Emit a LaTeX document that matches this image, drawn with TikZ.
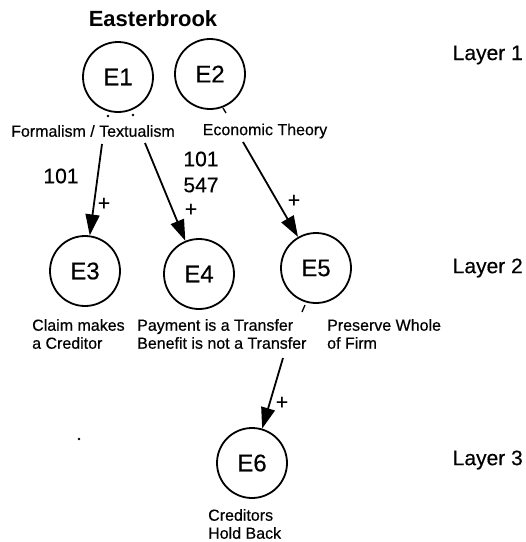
\documentclass[tikz,border=0pt]{standalone}
\usepackage{fontspec}
\setmainfont{Liberation Sans}[FakeBold=0.4]
\newfontfamily\titlefont{Liberation Sans Bold}
\usetikzlibrary{arrows.meta}
\begin{document}
\begin{tikzpicture}[x=1pt,y=-1pt,
  circ/.style={circle,draw,line width=1.8pt,minimum size=70pt,inner sep=0pt,font=\fontsize{24}{26}\selectfont},
  lbl/.style={font=\fontsize{16}{18}\selectfont,align=left,inner sep=0pt,anchor=west},
  clbl/.style={font=\fontsize{16}{18}\selectfont,inner sep=0pt},
  layer/.style={font=\fontsize{21}{24}\selectfont,inner sep=0pt,anchor=east},
  num/.style={font=\fontsize{21}{26}\selectfont,inner sep=0pt,align=left},
  plus/.style={font=\fontsize{21}{21}\selectfont,inner sep=0pt},
  conn/.style={line width=1.8pt,-{Triangle[length=21pt,width=14pt]}},
  tick/.style={line width=1.3pt},
]
\useasboundingbox (0,0) rectangle (526,542);
\node[font=\titlefont\fontsize{22}{24}\selectfont,inner sep=0pt] (title) at (153,19) {Easterbrook};

\node[circ] (E1) at (118,77) {E1};
\node[circ] (E2) at (210,74) {E2};
\node[circ] (E3) at (85,271) {E3};
\node[circ] (E4) at (199,274) {E4};
\node[circ] (E5) at (316,268) {E5};
\node[circ] (E6) at (252,463) {E6};

\node[layer] (L1) at (523,55) {Layer 1};
\node[layer] (L2) at (523,268) {Layer 2};
\node[layer] (L3) at (523,460) {Layer 3};

\node[clbl] (t1) at (93,131) {Formalism / Textualism};
\node[clbl] (t2) at (265,131) {Economic Theory};
\node[lbl] (t3) at (32,334) {Claim makes\\a Creditor};
\node[lbl] (t4) at (137,334) {Payment is a Transfer\\Benefit is not a Transfer};
\node[lbl] (t5) at (327,334) {Preserve Whole\\of Firm};
\node[lbl] (t6) at (208,524) {Creditors\\Hold Back};

\node[num] (n1) at (61,176) {101};
\node[num] (n2) at (201,172) {101\\547};

\node[plus] (p1) at (104,204) {+};
\node[plus] (p2) at (191,210) {+};
\node[plus] (p3) at (294,201) {+};
\node[plus] (p4) at (282,403) {+};

\coordinate (s13) at (102,144);
\coordinate (s14) at (145,143);
\coordinate (s25) at (243,142);
\coordinate (s56) at (283,358);
\draw[conn] (s13) -- (E3);
\draw[conn] (s14) -- (E4);
\draw[conn] (s25) -- (E5);
\draw[conn] (s56) -- (E6);

\coordinate (k1) at (223,108);
\coordinate (k2) at (226,113);
\draw[tick] (k1) -- (k2);
\coordinate (k3) at (305,305);
\coordinate (k4) at (302,312);
\draw[tick] (k3) -- (k4);
\fill (108,116) circle (1.3pt);
\fill (133,115) circle (1.3pt);
\fill (79,439) circle (1.4pt);
\end{tikzpicture}
\end{document}
